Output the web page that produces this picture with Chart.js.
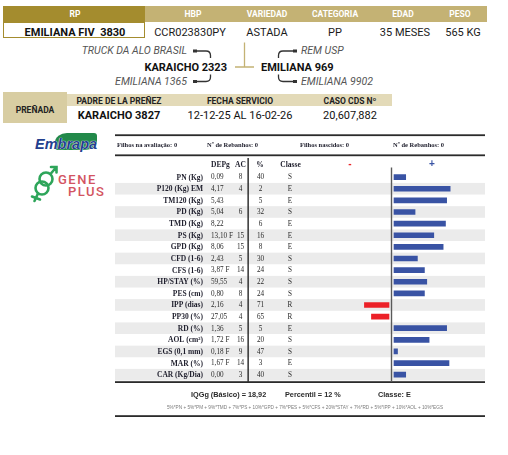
<!DOCTYPE html>
<html>
<head>
<meta charset="utf-8">
<script src="https://cdn.jsdelivr.net/npm/chart.js@4.4.1/dist/chart.umd.min.js"></script>
<style>
  html, body { margin: 0; padding: 0; background: #fff; }
  body { position: relative; width: 508px; height: 455px; overflow: hidden; font-family: Roboto, sans-serif; }
  .a { position: absolute; white-space: pre; line-height: 1; }
  .c { transform: translateX(-50%); }
  .r { transform: translateX(-100%); }
  .hd { color: #fff; font-weight: 700; font-size: 8.5px; top: 9.8px; }
  .val { color: #1a1a1a; font-size: 11px; top: 26.6px; }
  .ped { color: #555; font-style: italic; font-size: 10.5px; }
  .pb { color: #111; font-weight: 700; font-size: 11px; top: 61.6px; }
  .ph { color: #222; font-weight: 700; font-size: 8.5px; top: 96.8px; }
  .pv { color: #111; font-size: 11px; top: 110.1px; }
  #chart { position: absolute; left: 0; top: 0; }
</style>
</head>
<body>
  <!-- top header -->
  <div class="a" style="left:3px;top:6px;width:142px;height:16px;background:#a48c2e"></div>
  <div class="a" style="left:145px;top:6px;width:342px;height:16px;background:#c4b274"></div>
  <div class="a" style="left:3px;top:22px;width:142px;height:16px;box-sizing:border-box;border:1px solid #a48c2e"></div>
  <span class="a c hd" style="left:75px">RP</span>
  <span class="a c hd" style="left:193px">HBP</span>
  <span class="a c hd" style="left:267px">VARIEDAD</span>
  <span class="a c hd" style="left:335px">CATEGORIA</span>
  <span class="a c hd" style="left:403px">EDAD</span>
  <span class="a c hd" style="left:460px">PESO</span>
  <span class="a c val" style="left:75px;font-weight:700;color:#111">EMILIANA FIV  3830</span>
  <span class="a c val" style="left:190px">CCR023830PY</span>
  <span class="a c val" style="left:267px">ASTADA</span>
  <span class="a c val" style="left:335px">PP</span>
  <span class="a c val" style="left:405px">35 MESES</span>
  <span class="a c val" style="left:463px">565 KG</span>

  <!-- pedigree -->
  <svg class="a" style="left:0;top:0" width="508" height="130">
    <g fill="none" stroke="#333" stroke-width="1.3">
      <path d="M196 51 H206 Q210.5 51 210.5 55.5 V58"/>
      <path d="M196 81.5 H206 Q210.5 81.5 210.5 77 V74.5"/>
      <path d="M294 51 H283 Q278.5 51 278.5 55.5 V58"/>
      <path d="M294 81.5 H283 Q278.5 81.5 278.5 77 V74.5"/>
    </g>
    <g fill="#333">
      <rect x="193" y="49.5" width="4" height="3"/>
      <rect x="193" y="80" width="4" height="3"/>
      <rect x="293" y="49.5" width="4" height="3"/>
      <rect x="293" y="80" width="4" height="3"/>
    </g>
    <path d="M244.5 42.5 V67 M235 67 H254" fill="none" stroke="#c4b274" stroke-width="1.3"/>
  </svg>
  <span class="a r ped" style="left:187px;top:45.9px">TRUCK DA ALO BRASIL</span>
  <span class="a r ped" style="left:187px;top:76.9px">EMILIANA 1365</span>
  <span class="a ped" style="left:301px;top:45.9px">REM USP</span>
  <span class="a ped" style="left:301px;top:76.9px">EMILIANA 9902</span>
  <span class="a r pb" style="left:227px">KARAICHO 2323</span>
  <span class="a pb" style="left:261px">EMILIANA 969</span>

  <!-- preñada -->
  <div class="a" style="left:3px;top:92px;width:64px;height:31px;background:#d8cda2"></div>
  <div class="a" style="left:67px;top:94px;width:325px;height:11.5px;background:#e3dab8"></div>
  <span class="a c ph" style="left:35px;top:105.8px">PREÑADA</span>
  <span class="a c ph" style="left:119px">PADRE DE LA PREÑEZ</span>
  <span class="a c ph" style="left:240px">FECHA SERVICIO</span>
  <span class="a c ph" style="left:350px">CASO CDS Nº</span>
  <span class="a c pv" style="left:119px;font-weight:700">KARAICHO 3827</span>
  <span class="a c pv" style="left:240px">12-12-25 AL 16-02-26</span>
  <span class="a c pv" style="left:350px">20,607,882</span>

  <!-- logos -->
  <div class="a" style="left:55px;top:132.5px;width:42px;height:17px;background:#22894a;border-radius:12px 3px 12px 3px / 9px 3px 9px 3px"></div>
  <span class="a" style="left:35px;top:136px;font:italic 700 14.5px 'Liberation Sans';color:#23408e;text-shadow:0 0 1px #fff,0 0 1px #fff">Embrapa</span>
  <svg class="a" style="left:28px;top:160px" width="32" height="45" viewBox="28 160 32 45">
    <g fill="none" stroke="#2ea55a" stroke-width="2.6" stroke-linecap="round">
      <circle cx="46" cy="179" r="6.5"/>
      <circle cx="42" cy="188" r="6.5"/>
      <path d="M50.5 174 L56 167.5 M51 167 H56.5 V172.5"/>
      <path d="M38 193.5 L34.5 201 M32 196.5 L40 199.5"/>
    </g>
  </svg>
  <span class="a" style="left:58px;top:171.5px;font:500 13px Roboto;letter-spacing:1.5px;color:#d35461">GENE</span>
  <span class="a" style="left:68px;top:183.5px;font:500 13px Roboto;letter-spacing:1.5px;color:#d35461">PLUS</span>

  <canvas id="chart" width="508" height="455"></canvas>

<script>
const traits = ['PN (Kg)', 'P120 (Kg) EM', 'TM120 (Kg)', 'PD (Kg)', 'TMD (Kg)', 'PS (Kg)', 'GPD (Kg)', 'CFD (1-6)', 'CFS (1-6)', 'HP/STAY (%)', 'PES (cm)', 'IPP (dias)', 'PP30 (%)', 'RD (%)', 'AOL (cm²)', 'EGS (0,1 mm)', 'MAR (%)', 'CAR (Kg/Dia)'];
const depg = ['0,09', '4,17', '5,43', '5,04', '8,22', '13,10 F', '8,06', '2,43', '3,87 F', '59,55', '0,80', '2,16', '27,05', '1,36', '1,72 F', '0,18 F', '1,67 F', '0,00'];
const acc = ['8', '4', '', '6', '', '15', '15', '5', '14', '4', '8', '4', '4', '5', '16', '9', '14', '3'];
const pct = ['40', '2', '5', '32', '6', '16', '8', '30', '24', '22', '24', '71', '65', '5', '20', '47', '3', '40'];
const classe = ['S', 'E', 'E', 'S', 'E', 'E', 'E', 'S', 'S', 'S', 'S', 'R', 'R', 'E', 'S', 'S', 'E', 'S'];
const barValues = [10, 48, 45, 18, 44, 34, 42, 20, 26, 28, 26, -21, -15, 45, 30, 3, 47, 10];
const counts = ['Filhos na avaliação: 0', 'Nº de Rebanhos: 0', 'Filhos nascidos: 0', 'Nº de Rebanhos: 0'];
const index = ['IQGg (Básico) = 18,92', 'Percentil = 12 %', 'Classe: E'];
const formula = '5%*PN + 5%*PM + 9%*TMD + 7%*PS + 10%*GPD + 7%*PES + 5%*CFS + 20%*STAY + 7%*RD + 5%*IPP + 10%*AOL + 10%*EGS';

const K = 1.17;          // px per unit of bar
const LEFT = 330, RIGHT = 485;
const POS0 = 394, NEG0 = 389; // bars leave a small gap each side of the centre line
const INK = '#1e1e2c';

const tablePlugin = {
  id: 'table',
  beforeDatasetsDraw(chart) {
    const { ctx, scales: { y, x, x2 } } = chart;
    const h = (y.bottom - y.top) / traits.length;
    ctx.save();
    ctx.fillStyle = '#ebebeb';
    traits.forEach((t, i) => {
      if (i % 2) ctx.fillRect(115, y.getPixelForValue(i) - h / 2, 370, h);
    });
    ctx.fillStyle = '#2b2b2b';
    [134.3, 154.4, 381.2, 415.2].forEach(yy => ctx.fillRect(115, yy, 370, 1.8));
    ctx.fillStyle = '#333';
    ctx.fillRect(247.4, 158, 1.5, 224);
    const mid = (x.getPixelForValue(0) + x2.getPixelForValue(0)) / 2;
    ctx.fillStyle = '#5a5a5a';
    ctx.fillRect(mid - 0.7, 167.5, 1.4, 214);
    ctx.restore();
  },
  afterDatasetsDraw(chart) {
    const { ctx, scales: { y } } = chart;
    ctx.save();
    ctx.textBaseline = 'middle';
    ctx.fillStyle = INK;
    ctx.font = 'bold 6.5px "Liberation Serif"';
    ctx.textAlign = 'left';
    [117, 207, 300, 393].forEach((px, i) => ctx.fillText(counts[i], px, 145));

    ctx.font = 'bold 7.5px "Liberation Serif"';
    ctx.fillText('DEPg', 211, 165);
    ctx.textAlign = 'center';
    ctx.fillText('AC', 240.5, 165);
    ctx.fillText('%', 260, 165);
    ctx.fillText('Classe', 290.5, 165);
    ctx.font = 'bold 10px "Liberation Sans"';
    ctx.fillStyle = '#e8262a';
    ctx.fillText('-', 350, 164.5);
    ctx.fillStyle = '#3953a4';
    ctx.fillText('+', 432, 164.5);

    traits.forEach((t, i) => {
      const yy = y.getPixelForValue(i) + 0.5;
      ctx.fillStyle = INK;
      ctx.font = 'bold 7.5px "Liberation Serif"';
      ctx.textAlign = 'right';
      ctx.fillText(t, 203, yy);
      ctx.fillStyle = '#2a2a2a';
      ctx.font = '7.2px "Liberation Serif"';
      ctx.textAlign = 'left';
      ctx.fillText(depg[i], 211, yy);
      ctx.textAlign = 'center';
      ctx.fillText(acc[i], 240.5, yy);
      ctx.fillText(pct[i], 260.5, yy);
      ctx.fillText(classe[i], 290, yy);
    });

    ctx.fillStyle = '#2a2a2a';
    ctx.font = 'bold 7.3px "Liberation Sans"';
    ctx.textAlign = 'left';
    [191, 285, 378].forEach((px, i) => ctx.fillText(index[i], px, 394.5));
    ctx.fillStyle = '#7a7a7a';
    ctx.font = '4.7px "Liberation Sans"';
    ctx.textAlign = 'center';
    ctx.fillText(formula, 305, 407.5, 276);
    ctx.restore();
  }
};

new Chart(document.getElementById('chart'), {
  type: 'bar',
  data: {
    labels: traits,
    datasets: [
      {
        data: barValues.map(v => (v > 0 ? v : null)),
        xAxisID: 'x',
        backgroundColor: '#3953a4',
        barThickness: 5,
        grouped: false,
      },
      {
        data: barValues.map(v => (v < 0 ? v : null)),
        xAxisID: 'x2',
        backgroundColor: '#ec2027',
        barThickness: 5,
        grouped: false,
      },
    ],
  },
  options: {
    indexAxis: 'y',
    responsive: false,
    animation: false,
    layout: { padding: { left: LEFT, right: 508 - RIGHT, top: 171.3, bottom: 455 - 380.5 } },
    scales: {
      y: { display: false },
      x: { type: 'linear', display: false, min: (LEFT - POS0) / K, max: (RIGHT - POS0) / K },
      x2: { type: 'linear', axis: 'x', display: false, min: (LEFT - NEG0) / K, max: (RIGHT - NEG0) / K },
    },
    plugins: {
      legend: { display: false },
      tooltip: { enabled: false },
    },
  },
  plugins: [tablePlugin],
});
</script>
</body>
</html>
